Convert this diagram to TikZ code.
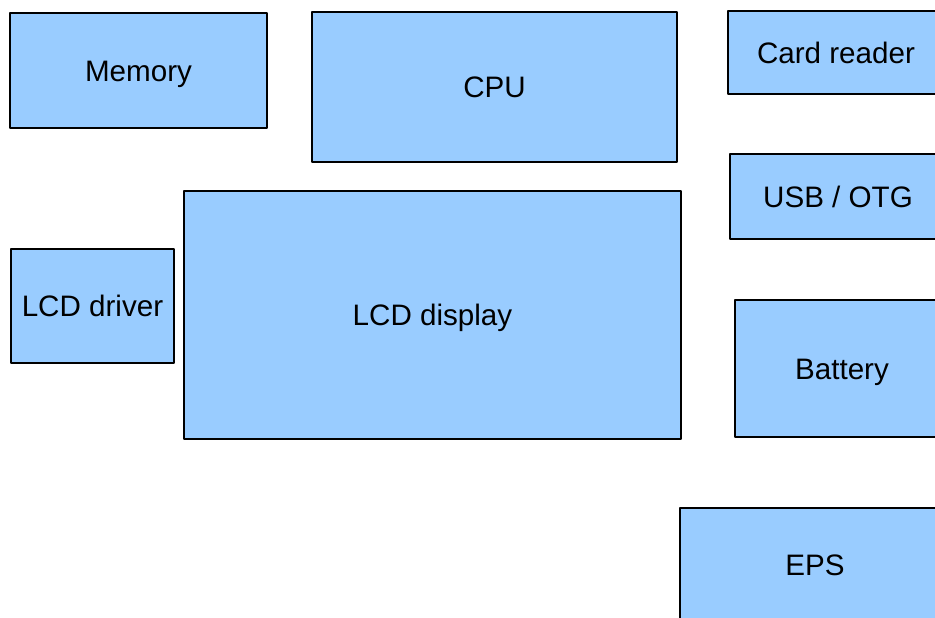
\documentclass[tikz,border=0pt]{standalone}
\usepackage{fontspec}
\setmainfont{Liberation Sans}
\usepackage{tikz}

\begin{document}
\begin{tikzpicture}[x=1pt,y=-1pt,line cap=round,line join=round,
    blk@/.style={draw=black,fill=blue@,line width=1.4pt,inner sep=0pt,
      text height=21.3pt,text depth=0pt,
      font=\fontsize{29.6}{32}\selectfont}]
    \definecolor{blue@}{HTML}{99CCFF}
    \clip (0,0) rectangle (935,618);

    % The left column and the processor.
    \node[blk@,minimum width=257,minimum height=115] (mem) at (138.5,70.5) {Memory};
    \node[blk@,minimum width=365,minimum height=150] (cpu) at (494.5,87) {CPU};
    \node[blk@,minimum width=163,minimum height=114] (lcddrv) at (92.5,306) {LCD driver};
    \node[blk@,minimum width=497,minimum height=248] (lcd) at (432.5,315) {LCD display};

    % The right column, cut off by the frame.
    \node[blk@,minimum width=216,minimum height=83] (card) at (836,52.5) {Card reader};
    \node[blk@,minimum width=216,minimum height=85] (usb) at (838,196.5) {USB / OTG};
    \node[blk@,minimum width=214,minimum height=137] (bat) at (842,368.5) {Battery};
    \node[blk@,minimum width=270,minimum height=114] (eps) at (815,565) {EPS};
  \end{tikzpicture}
\end{document}
